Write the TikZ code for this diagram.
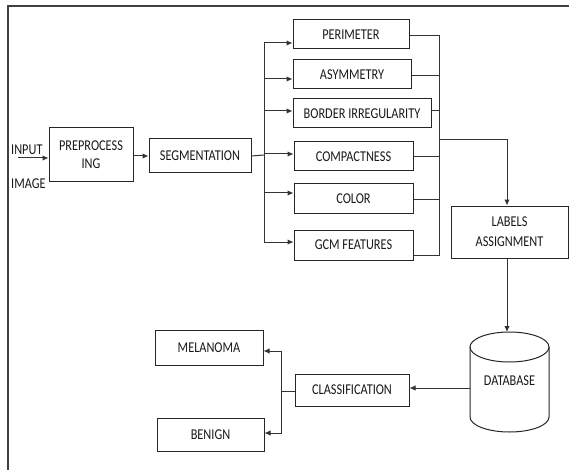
\documentclass[tikz,border=0pt]{standalone}
\usepackage{fontspec}
\setmainfont{Carlito}
\newfontfamily\cfont[FakeStretch=0.82]{Carlito}
\usetikzlibrary{arrows.meta}
\begin{document}
\begin{tikzpicture}[x=1pt,y=-1pt,
  box/.style={draw=black!85,line width=1pt,inner sep=0pt,align=center,font=\cfont\fontsize{15}{17}\selectfont,text=black!90},
  lbl/.style={inner sep=0pt,font=\cfont\fontsize{15}{17}\selectfont,text=black!90},
  conn/.style={draw=black!80,line width=1pt},
  arr/.style={conn,-{Latex[length=6pt,width=5.5pt]}}]
\useasboundingbox (0,0) rectangle (569,470);
\draw[black!75,line width=1.2pt] (8,470) -- (8,6) -- (569,6);
% nodes
\node[box,minimum width=84pt,minimum height=54pt] (prep) at (91,155) {PREPROCESS\\[1pt]ING};
\node[box,minimum width=102pt,minimum height=34pt] (seg) at (200,156) {SEGMENTATION};
\node[box,minimum width=116pt,minimum height=29pt] (perim) at (351,34.5) {PERIMETER};
\node[box,minimum width=118pt,minimum height=29pt] (asym) at (352,74.5) {ASYMMETRY};
\node[box,minimum width=138pt,minimum height=29pt] (border) at (362,113.5) {BORDER IRREGULARITY};
\node[box,minimum width=119pt,minimum height=29pt] (comp) at (353.5,156.5) {COMPACTNESS};
\node[box,minimum width=119pt,minimum height=29pt] (color) at (353.5,198.5) {COLOR};
\node[box,minimum width=119pt,minimum height=30pt] (gcm) at (353.5,245) {GCM FEATURES};
\node[box,minimum width=117pt,minimum height=52pt] (lab) at (509.5,232) {LABELS\\[3pt]ASSIGNMENT};
\node[box,minimum width=114pt,minimum height=32pt] (cls) at (352,390) {CLASSIFICATION};
\node[box,minimum width=108pt,minimum height=35pt] (mel) at (209,347.5) {MELANOMA};
\node[box,minimum width=107pt,minimum height=33pt] (ben) at (210.5,434.5) {BENIGN};
% database cylinder
\draw[black!85,line width=1pt] (509.5,347) ellipse [x radius=39.5pt,y radius=15pt];
\draw[black!85,line width=1pt] (470,347) -- (470,417) arc [start angle=180,end angle=360,x radius=39.5pt,y radius=15pt] -- (549,347);
\node[lbl] (db) at (509.5,381) {DATABASE};
\coordinate (dbtop) at (507,332);
\coordinate (dbleft) at (470,388);
% input
\node[lbl,anchor=west] (inp) at (11,150) {INPUT};
\node[lbl,anchor=west] (img) at (11,184) {IMAGE};
\coordinate (instart) at (18,158);
\draw[arr] (instart) -- (prep.west |- instart);
\draw[arr] (prep.east |- seg) -- (seg.west);
% left bus
\coordinate (lb) at (264,155);
\draw[conn] (seg.east) -- (lb);
\draw[conn] (264,43) -- (264,242);
\draw[arr] (264,43) -- (perim.west |- 0,43);
\draw[arr] (264,79) -- (asym.west |- 0,79);
\draw[arr] (264,111) -- (border.west |- 0,111);
\draw[arr] (264,154) -- (comp.west |- 0,154);
\draw[arr] (264,193) -- (color.west |- 0,193);
\draw[arr] (264,242) -- (gcm.west |- 0,242);
% right bus
\draw[conn] (perim.east |- 0,36) -- (439,36) -- (439,255) -- (gcm.east |- 0,255);
\draw[conn] (asym.east |- 0,76) -- (439,76);
\draw[conn] (border.east |- 0,111) -- (439,111);
\draw[conn] (comp.east |- 0,157) -- (439,157);
\draw[conn] (color.east |- 0,199) -- (439,199);
\draw[arr] (439,140) -- (507,140) -- (lab.north -| 507,0);
\draw[arr] (lab.south -| 507,0) -- (dbtop);
\draw[arr] (dbleft) -- (cls.east |- dbleft);
% classification outputs
\coordinate (cb) at (281,391);
\draw[conn] (cls.west |- cb) -- (cb);
\draw[arr] (281,391) -- (281,351) -- (mel.east |- 0,351);
\draw[arr] (281,391) -- (281,433) -- (ben.east |- 0,433);
\end{tikzpicture}
\end{document}
